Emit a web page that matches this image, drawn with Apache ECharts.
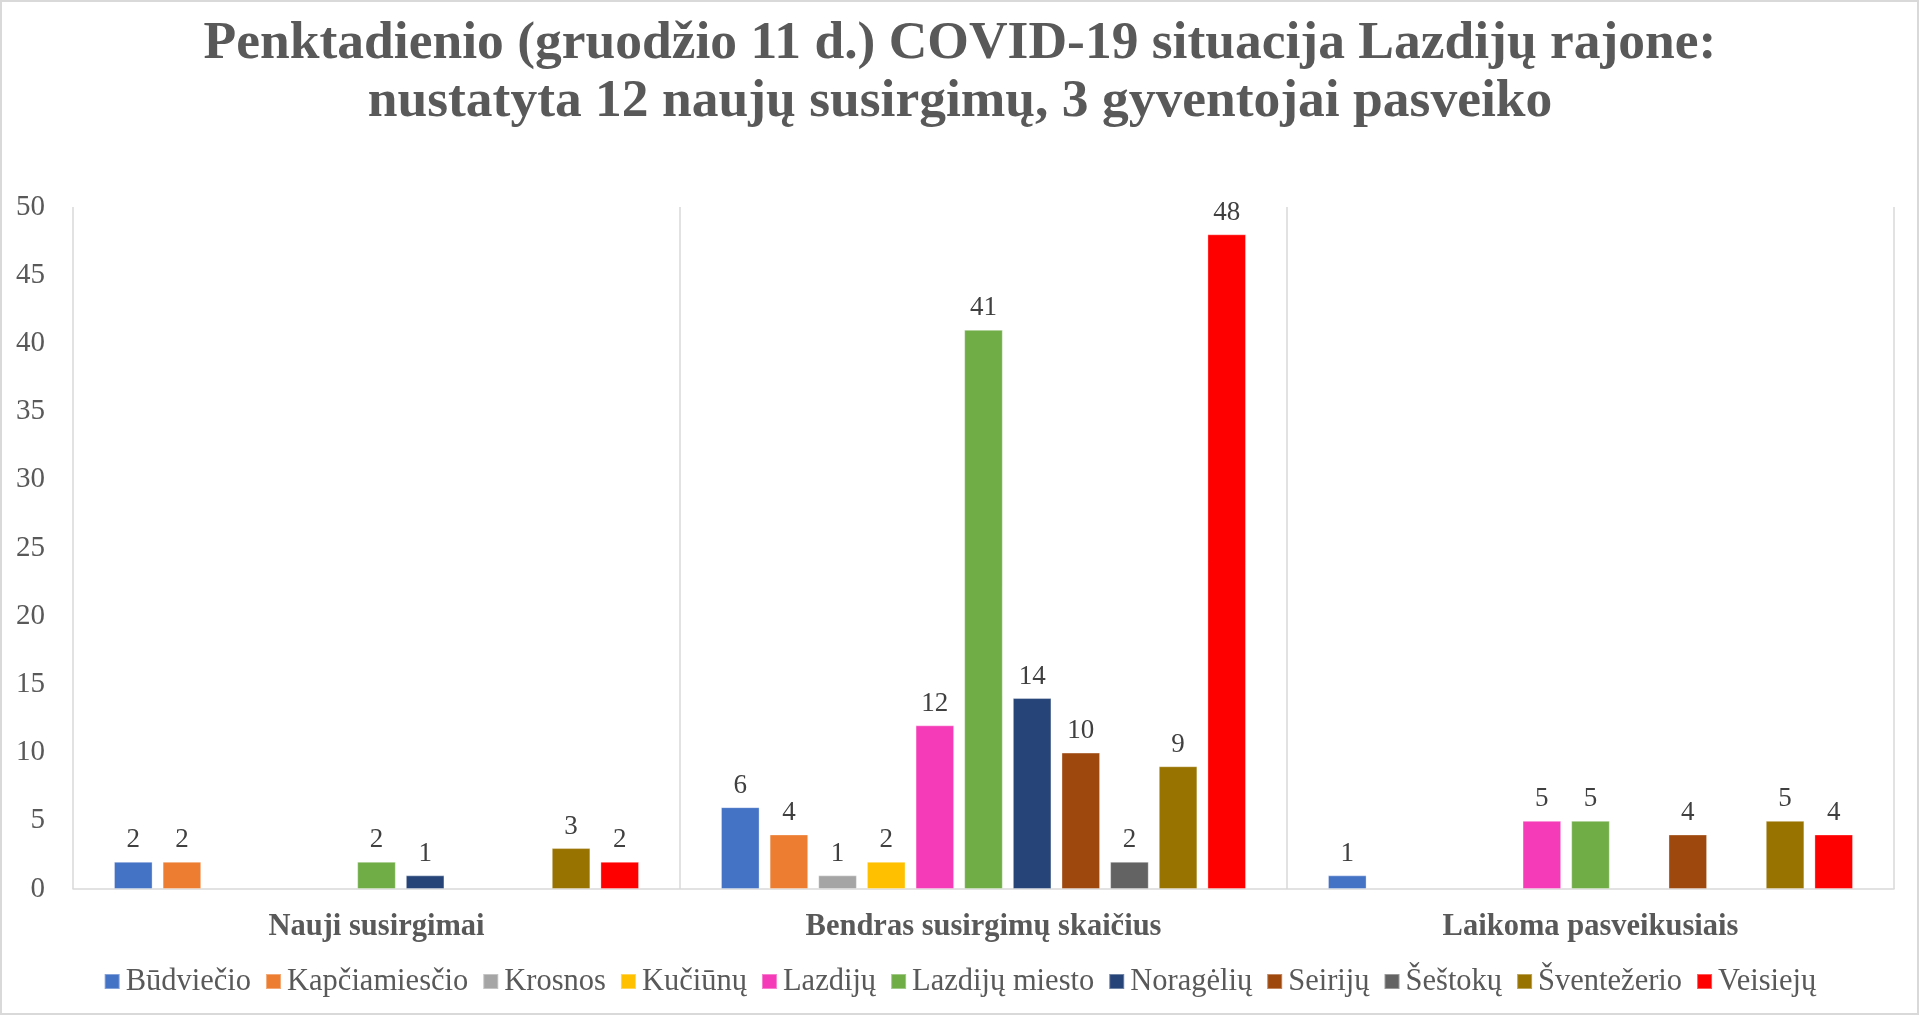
<!DOCTYPE html>
<html>
<head>
<meta charset="utf-8">
<script src="https://cdn.jsdelivr.net/npm/echarts@6/dist/echarts.min.js"></script>
<style>
html,body{margin:0;padding:0;background:#fff;}
#c{width:1920px;height:1016px;}
</style>
</head>
<body>
<div id="c"></div>
<script>
const titleLines = ['Penktadienio (gruodžio 11 d.) COVID-19 situacija Lazdijų rajone:', 'nustatyta 12 naujų susirgimų, 3 gyventojai pasveiko'];
const categories = ['Nauji susirgimai', 'Bendras susirgimų skaičius', 'Laikoma pasveikusiais'];
const seriesNames = ['Būdviečio', 'Kapčiamiesčio', 'Krosnos', 'Kučiūnų', 'Lazdijų', 'Lazdijų miesto', 'Noragėlių', 'Seirijų', 'Šeštokų', 'Šventežerio', 'Veisiejų'];
const budvieco = [2, 6, 1];
const kapciamiescio = [2, 4, null];
const krosnos = [null, 1, null];
const kuciunu = [null, 2, null];
const lazdiju = [null, 12, 5];
const lazdijuMiesto = [2, 41, 5];
const norageliu = [1, 14, null];
const seiriju = [null, 10, 4];
const sestoku = [null, 2, null];
const sventezerio = [3, 9, 5];
const veisieju = [2, 48, 4];
const yTicks = [0, 5, 10, 15, 20, 25, 30, 35, 40, 45, 50];

const seriesValues = [budvieco, kapciamiescio, krosnos, kuciunu, lazdiju, lazdijuMiesto, norageliu, seiriju, sestoku, sventezerio, veisieju];
const colors = ['#4472C4', '#ED7D31', '#A5A5A5', '#FFC000', '#F53BB7', '#70AD47', '#264478', '#9E480E', '#636363', '#997300', '#FF0000'];

const chart = echarts.init(document.getElementById('c'), null, {renderer: 'canvas'});
const serif = '"Liberation Serif", "Times New Roman", serif';
chart.setOption({
  animation: false,
  color: colors,
  textStyle: {fontFamily: serif},
  title: {
    text: titleLines.join('\n'),
    left: 'center',
    top: 10,
    textStyle: {fontFamily: serif, fontSize: 53.5, fontWeight: 'bold', color: '#595959', lineHeight: 58}
  },
  legend: {
    data: seriesNames,
    bottom: 14,
    left: 'center',
    icon: 'rect',
    itemWidth: 15,
    itemHeight: 15,
    itemGap: 14,
    textStyle: {fontFamily: serif, fontSize: 30.5, color: '#595959', padding: [0, 0, 0, 1]}
  },
  grid: {left: 73, right: 26, top: 207, bottom: 127, containLabel: false},
  xAxis: {
    type: 'category',
    data: categories,
    axisLine: {show: true, lineStyle: {color: '#d9d9d9', width: 1.5}},
    axisTick: {show: false},
    splitLine: {show: true, interval: 0, lineStyle: {color: '#d9d9d9', width: 1.5}},
    axisLabel: {fontFamily: serif, fontSize: 30.5, fontWeight: 'bold', color: '#595959', margin: 23, interval: 0}
  },
  yAxis: {
    type: 'value',
    min: yTicks[0],
    max: yTicks[yTicks.length - 1],
    interval: yTicks[1] - yTicks[0],
    axisLine: {show: false},
    axisTick: {show: false},
    splitLine: {show: false},
    axisLabel: {fontFamily: serif, fontSize: 29, color: '#595959', margin: 28}
  },
  graphic: [{
    type: 'rect',
    shape: {x: 1, y: 1, width: 1917, height: 1013},
    style: {fill: 'none', stroke: '#d9d9d9', lineWidth: 2},
    silent: true
  }],
  series: seriesNames.map((name, i) => ({
    name: name,
    type: 'bar',
    data: seriesValues[i],
    barGap: '26%',
    barCategoryGap: '13.5%',
    itemStyle: {color: colors[i], borderColor: 'rgba(255,255,255,0.35)', borderWidth: 1},
    label: {show: true, position: 'top', distance: 8, fontFamily: serif, fontSize: 27, color: '#404040'}
  }))
});
</script>
</body>
</html>
